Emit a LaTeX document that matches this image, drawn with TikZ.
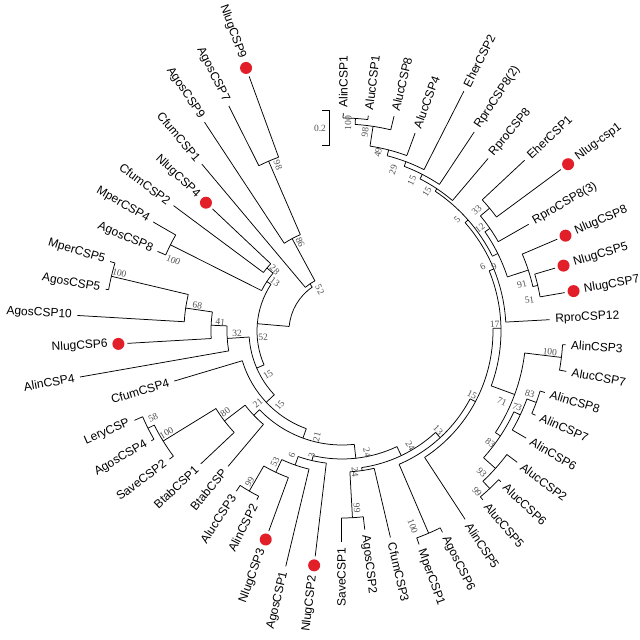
\documentclass[tikz,border=0pt]{standalone}
\usepackage{fontspec}
\setmainfont{Liberation Sans}
\newfontfamily\bsfont{Liberation Serif}
\definecolor{dotred}{RGB}{226,30,40}
\definecolor{bsgray}{RGB}{80,80,80}
\tikzset{
  br/.style={line width=0.75pt, black},
  leaflab/.style={font=\fontsize{12}{14}\selectfont, inner sep=1.5pt},
  bst/.style={font=\bsfont\fontsize{9.5}{11}\selectfont, text=bsgray, inner sep=0.5pt},
  reddot/.style={circle, fill=dotred, minimum size=12pt, inner sep=0pt}
}
\newcommand\Ang[1]{\csname angX#1\endcsname}
\newcommand\tleaf[5]{%
  \pgfmathsetmacro\la{89.7-6.66*#2}%
  \expandafter\let\csname angX#1\endcsname\la
  \coordinate (#1) at (\la:#3pt);
  \pgfmathsetmacro\lc{cos(\la)}%
  \ifdim\lc pt>0pt
    \edef\lrot{\la}\def\lanc{west}%
  \else
    \pgfmathsetmacro\lrot{\la+180}\def\lanc{east}%
  \fi
  \ifnum#5=1
    \pgfmathsetmacro\rd{#3+9}%
    \node[reddot] (D#1) at (\la:\rd pt) {};
    \pgfmathsetmacro\rt{#3+18}%
  \else
    \pgfmathsetmacro\rt{#3+4}%
  \fi
  \node[leaflab, anchor=\lanc, rotate=\lrot] (T#1) at (\la:\rt pt) {#4};%
}
\newcommand\tnode[4]{%
  \edef\ca{\Ang{#3}}\edef\cb{\Ang{#4}}%
  \pgfmathsetmacro\cm{(\ca+\cb)/2}%
  \expandafter\let\csname angX#1\endcsname\cm
  \coordinate (#1) at (\cm:#2pt);
  \draw[br] (\ca:#2pt) arc[start angle=\ca, end angle=\cb, radius=#2pt];
  \draw[br] (\ca:#2pt) -- (#3);
  \draw[br] (\cb:#2pt) -- (#4);
}
\newcommand\bootlab[4]{%
  \pgfmathsetmacro\lc{cos(#2)}%
  \ifdim\lc pt>0pt \pgfmathsetmacro\brot{#2}\else\pgfmathsetmacro\brot{#2+180}\fi
  \node[bst, rotate=\brot] (#1) at (#2:#3pt) {#4};%
}
\begin{document}
\begin{tikzpicture}
\useasboundingbox (-342pt,-309pt) rectangle (298pt,331pt);
\fill[white] (-342pt,-309pt) rectangle (298pt,331pt);
% leaves
\tleaf{L0}{0}{218}{AlinCSP1}{0}
\tleaf{L1}{1}{217}{AlucCSP1}{0}
\tleaf{L2}{2}{221}{AlucCSP8}{0}
\tleaf{L3}{3}{211}{AlucCSP4}{0}
\tleaf{L4}{4}{269}{EherCSP2}{0}
\tleaf{L5}{5}{239}{RproCSP8(2)}{0}
\tleaf{L6}{6}{226}{RproCSP8}{0}
\tleaf{L7}{7}{250}{EherCSP1}{0}
\tleaf{L8}{8}{272}{Nlug-csp1}{1}
\tleaf{L9}{9}{215}{RproCSP8(3)}{0}
\tleaf{L10}{10}{234}{NlugCSP8}{1}
\tleaf{L11}{11}{222}{NlugCSP5}{1}
\tleaf{L12}{12}{226}{NlugCSP7}{1}
\tleaf{L13}{13}{208}{RproCSP12}{0}
\tleaf{L14}{14}{224}{AlinCSP3}{0}
\tleaf{L15}{15}{228}{AlucCSP7}{0}
\tleaf{L16}{16}{212}{AlinCSP8}{0}
\tleaf{L17}{17}{211}{AlinCSP7}{0}
\tleaf{L18}{18}{213}{AlinCSP6}{0}
\tleaf{L19}{19}{219}{AlucCSP2}{0}
\tleaf{L20}{20}{219}{AlucCSP6}{0}
\tleaf{L21}{21}{220}{AlucCSP5}{0}
\tleaf{L22}{22}{225}{AlinCSP5}{0}
\tleaf{L23}{23}{225}{AgosCSP6}{0}
\tleaf{L24}{24}{227}{MperCSP1}{0}
\tleaf{L25}{25}{212}{CfumCSP3}{0}
\tleaf{L26}{26}{200}{AgosCSP2}{0}
\tleaf{L27}{27}{211}{SaveCSP1}{0}
\tleaf{L28}{28}{227}{NlugCSP2}{1}
\tleaf{L29}{29}{242}{AgosCSP1}{0}
\tleaf{L30}{30}{213}{NlugCSP3}{1}
\tleaf{L31}{31}{189}{AlinCSP2}{0}
\tleaf{L32}{32}{192}{AlucCSP3}{0}
\tleaf{L33}{33}{177}{BtabCSP}{0}
\tleaf{L34}{34}{194}{BtabCSP1}{0}
\tleaf{L35}{35}{215}{SaveCSP2}{0}
\tleaf{L36}{36}{220}{AgosCSP4}{0}
\tleaf{L37}{37}{226}{LeryCSP}{0}
\tleaf{L38}{38}{175}{CfumCSP4}{0}
\tleaf{L39}{39}{266}{AlinCSP4}{0}
\tleaf{L40}{40}{215}{NlugCSP6}{1}
\tleaf{L41}{41}{265}{AgosCSP10}{0}
\tleaf{L42}{42}{240}{AgosCSP5}{0}
\tleaf{L43}{43}{242}{MperCSP5}{0}
\tleaf{L44}{44}{201}{AgosCSP8}{0}
\tleaf{L45}{45}{218}{MperCSP4}{0}
\tleaf{L46}{46}{210}{CfumCSP2}{0}
\tleaf{L47}{47}{178}{NlugCSP4}{1}
\tleaf{L48}{48}{218}{CfumCSP1}{0}
\tleaf{L49}{49}{250}{AgosCSP9}{0}
\tleaf{L50}{50}{252}{AgosCSP7}{0}
\tleaf{L51}{51}{271}{NlugCSP9}{1}
% internal nodes
\tnode{A1}{213}{L0}{L1}
\tnode{A2}{207}{A1}{L2}
\tnode{A3}{187}{A2}{L3}
\tnode{A4}{181}{A3}{L4}
\tnode{A5}{176}{A4}{L5}
\tnode{A6}{171}{A5}{L6}
\tnode{B1}{192}{L7}{L8}
\tnode{B2}{180}{B1}{L9}
\tnode{C1}{201}{L11}{L12}
\tnode{C2}{196}{L10}{C1}
\tnode{N9}{174}{B2}{C2}
\tnode{N5}{168}{A6}{N9}
\tnode{N6r}{164}{N5}{L13}
\tnode{N100r}{221}{L14}{L15}
\tnode{N83a}{207}{L16}{L17}
\tnode{N73}{197}{N83a}{L18}
\tnode{N99r}{216}{L20}{L21}
\tnode{N93}{206}{L19}{N99r}
\tnode{N83b}{190}{N73}{N93}
\tnode{N71}{184}{N100r}{N83b}
\tnode{N17}{159}{N6r}{N71}
\tnode{N15r}{151}{L22}{N17}
\tnode{N100m}{220}{L23}{L24}
\tnode{N13r}{145}{N100m}{N15r}
\tnode{N99c}{187}{L26}{L27}
\tnode{N24l}{141}{L25}{N99c}
\tnode{N21r}{138}{N24l}{N13r}
\tnode{N99b}{185}{L31}{L32}
\tnode{N53}{156}{L30}{N99b}
\tnode{N6}{142}{L29}{N53}
\tnode{N3}{133}{L28}{N6}
\tnode{N24}{128}{N3}{N21r}
\tnode{N58}{217}{L36}{L37}
\tnode{N100e}{210}{L35}{N58}
\tnode{N80}{148}{L34}{N100e}
\tnode{N21b}{122}{L33}{N80}
\tnode{N21}{114}{N21b}{N24}
\tnode{N15b}{104}{L38}{N21}
\tnode{N100d}{237}{L42}{L43}
\tnode{N68}{158}{L41}{N100d}
\tnode{N41}{131}{L40}{N68}
\tnode{N32}{115}{L39}{N41}
\tnode{N15a}{93}{N32}{N15b}
\tnode{N100c}{192}{L44}{L45}
\tnode{N28}{98}{L46}{L47}
\tnode{N13}{90}{N100c}{N28}
\tnode{N52l}{85}{N13}{N15a}
\tnode{N98L}{185}{L50}{L51}
\tnode{N86}{105}{L49}{N98L}
\tnode{N52u}{57}{L48}{N86}
\tnode{root}{53}{N52l}{N52u}
% bootstrap values
\bootlab{b1}{88.3}{208}{100}
\bootlab{b2}{83.4}{200}{98}
\bootlab{b3}{78.6}{182}{49}
\bootlab{b4}{72.4}{169}{29}
\bootlab{b5}{65.1}{166}{15}
\bootlab{b6}{58.6}{163}{15}
\bootlab{b7}{44}{160}{5}
\bootlab{b8}{41.9}{181}{33}
\bootlab{b9}{36.7}{172}{12}
\bootlab{b10}{22.8}{165}{9}
\bootlab{b11}{24.7}{155}{6}
\bootlab{b12}{14.6}{186}{91}
\bootlab{b13}{9.4}{190}{51}
\bootlab{b14}{2.6}{153}{17}
\bootlab{b15}{-5.8}{209}{100}
\bootlab{b16}{-18.5}{198}{83}
\bootlab{b17}{-23.5}{191}{73}
\bootlab{b18}{-23.9}{175}{71}
\bootlab{b19}{-37.1}{186}{83}
\bootlab{b20}{-45.4}{199}{93}
\bootlab{b21}{-50}{210}{99}
\bootlab{b22}{-26.2}{145}{15}
\bootlab{b23}{-45.9}{138}{13}
\bootlab{b24}{-59.4}{134}{24}
\bootlab{b25}{-70.1}{208}{100}
\bootlab{b26}{-78.3}{124}{24}
\bootlab{b27}{-84.7}{142}{24}
\bootlab{b28}{-85.2}{178}{99}
\bootlab{b29}{-103.3}{109}{21}
\bootlab{b30}{-103.6}{128}{3}
\bootlab{b31}{-112}{134}{6}
\bootlab{b32}{-117.1}{147}{53}
\bootlab{b33}{-121.4}{177}{99}
\bootlab{b34}{-139.4}{111}{21}
\bootlab{b35}{-130}{97}{15}
\bootlab{b36}{-145.3}{142}{80}
\bootlab{b37}{-149.8}{203}{100}
\bootlab{b38}{-155.3}{208}{58}
\bootlab{b39}{-149.3}{86}{15}
\bootlab{b40}{-178.9}{105}{32}
\bootlab{b41}{-184.2}{122}{41}
\bootlab{b42}{-190.2}{147}{68}
\bootlab{b43}{-194.6}{230}{100}
\bootlab{b44}{-202.8}{183}{100}
\bootlab{b45}{-175.7}{79}{52}
\bootlab{b46}{-216.2}{83}{13}
\bootlab{b47}{-222.3}{91}{28}
\bootlab{b48}{-241.8}{47}{52}
\bootlab{b49}{-244.7}{98}{86}
\bootlab{b50}{-248.9}{178}{98}
% scale bar
\coordinate (sbT) at (-13pt,221pt);
\coordinate (sbB) at (-13pt,186pt);
\draw[br] ([xshift=-7pt]sbT) -- (sbT) -- (sbB) -- ([xshift=-7pt]sbB);
\node[bst] (sbl) at (-22pt,203pt) {0.2};
\end{tikzpicture}
\end{document}
